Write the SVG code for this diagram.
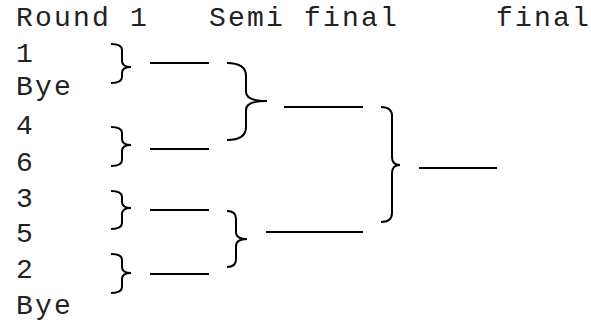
<svg xmlns="http://www.w3.org/2000/svg" width="591" height="323" viewBox="0 0 591 323">
<style>
text{font-family:"Liberation Mono","Courier New",monospace;font-size:28px;letter-spacing:2.2px;fill:#222}
.c path,.c line{fill:none;stroke:#000;stroke-width:2;stroke-linecap:butt}
</style>
<rect width="591" height="323" fill="#fff"/>
<g id="headers">
<text x="16" y="26">Round 1</text>
<text x="209" y="26">Semi final</text>
<text x="496" y="26">final</text>
</g>
<g id="entrants">
<g id="e1"><text x="16" y="62">1</text></g>
<g id="e2"><text x="16" y="95">Bye</text></g>
<g id="e3"><text x="16" y="134">4</text></g>
<g id="e4"><text x="16" y="171">6</text></g>
<g id="e5"><text x="16" y="207">3</text></g>
<g id="e6"><text x="16" y="242">5</text></g>
<g id="e7"><text x="16" y="278">2</text></g>
<g id="e8"><text x="16" y="314">Bye</text></g>
</g>
<g id="connectors" class="c">
<path d="M111 44 Q122 44 122 50 L122 61 Q122 67 131 67 Q122 67 122 73 L122 77 Q122 83 111 83"/>
<path d="M111 127 Q122 127 122 133 L122 139 Q122 145 131 145 Q122 145 122 151 L122 160 Q122 166 111 166"/>
<path d="M111 191 Q122 191 122 197 L122 202 Q122 208 131 208 Q122 208 122 214 L122 223 Q122 229 111 229"/>
<path d="M111 254 Q122 254 122 260 L122 267 Q122 273 131 273 Q122 273 122 279 L122 287 Q122 293 111 293"/>
<path d="M227 63 Q246 63 246 76 L246 92 Q246 101 267 101 Q246 101 246 110 L246 127 Q246 140 227 140"/>
<path d="M227 211 Q236 211 236 219 L236 232 Q236 239 247 239 Q236 239 236 246 L236 259 Q236 267 227 267"/>
<path d="M381 107 Q392 107 392 116 L392 157 Q392 165 400 165 Q392 165 392 173 L392 213 Q392 222 381 222"/>
<line x1="150" y1="63" x2="209" y2="63"/>
<line x1="150" y1="149" x2="209" y2="149"/>
<line x1="150" y1="210" x2="209" y2="210"/>
<line x1="150" y1="274" x2="209" y2="274"/>
<line x1="284" y1="107" x2="363" y2="107"/>
<line x1="266" y1="232" x2="363" y2="232"/>
<line x1="419" y1="168" x2="497" y2="168"/>
</g>
</svg>
